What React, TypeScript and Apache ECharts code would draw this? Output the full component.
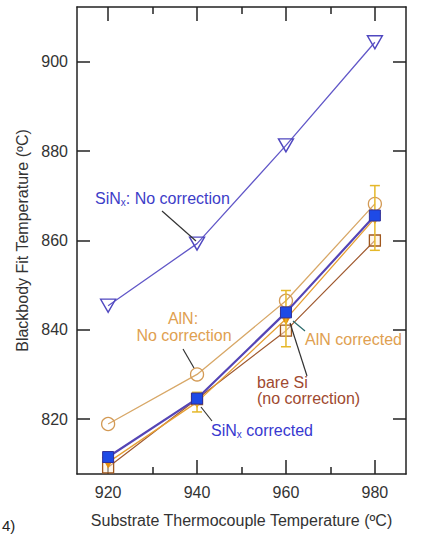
import React, { useEffect, useRef } from "react";
import * as echarts from "echarts";

const xValues = [920, 940, 960, 980];
const sinxNoCorr = [845.4, 859.3, 881.3, 904.4];
const alnNoCorr = [818.9, 830.0, 846.5, 868.2];
const sinxCorr = [811.5, 824.6, 843.9, 865.6];
const alnCorr = [810.3, 823.8, 842.4, 865.0];
const bareSi = [809.2, 824.5, 839.8, 860.0];
const errX = [940, 960, 980];
const errLow = [821.6, 836.2, 857.8];
const errHigh = [826.0, 848.8, 872.3];
const xMajorTicks = [920, 940, 960, 980];
const xMinorTicks = [930, 950, 970];
const yTicks = [820, 840, 860, 880, 900];

const FONT = "'Liberation Sans', Arial, sans-serif";
const AX = "#222";

export default function App() {
  const ref = useRef<HTMLDivElement>(null);
  useEffect(() => {
    if (!ref.current) return;
    const chart = echarts.init(ref.current, null, { renderer: "svg" });
    const pair = (ys: number[]) => xValues.map((x, i) => [x, ys[i]]);
    const xMin = 913, xMax = 987, yMin = 807.7, yMax = 912.3;
    const baseX = (pos: string, ticks: number[], len: number, line: boolean, labels: boolean, extra: any = {}) => ({
      type: "value", position: pos, min: xMin, max: xMax, gridIndex: 0,
      axisLine: { show: line, onZero: false, lineStyle: { color: AX, width: 1.5 } },
      axisTick: { show: true, inside: true, length: len, customValues: ticks, lineStyle: { color: AX, width: 1.5 } },
      axisLabel: labels ? { show: true, customValues: ticks, fontSize: 16, color: "#333", margin: 10, fontFamily: FONT } : { show: false },
      splitLine: { show: false },
      ...extra,
    });
    const baseY = (pos: string, labels: boolean, extra: any = {}) => ({
      type: "value", position: pos, min: yMin, max: yMax,
      axisLine: { show: true, onZero: false, lineStyle: { color: AX, width: 1.5 } },
      axisTick: { show: true, inside: true, length: 13, customValues: yTicks, lineStyle: { color: AX, width: 1.5 } },
      axisLabel: labels ? { show: true, customValues: yTicks, fontSize: 16, color: "#333", margin: 9, fontFamily: FONT } : { show: false },
      splitLine: { show: false },
      ...extra,
    });
    const txt = (x: number, y: number, text: string, fill: string, align = "left") => ({
      type: "text", x, y, z: 20,
      style: { text, fill, fontSize: 16, fontFamily: FONT, align, verticalAlign: "middle" },
    });
    const ln = (x1: number, y1: number, x2: number, y2: number, stroke = "#333") => ({
      type: "line", z: 20, shape: { x1, y1, x2, y2 }, style: { stroke, lineWidth: 1.2 },
    });
    const subText = (x: number, y: number, pre: string, post: string, fill: string) => ({
      type: "text", x, y, z: 20,
      style: {
        text: `{a|${pre}}{s|x}{a|${post}}`, fill, fontFamily: FONT, fontSize: 16, verticalAlign: "middle", align: "left",
        rich: {
          a: { fontSize: 16, fill, fontFamily: FONT },
          s: { fontSize: 10, fill, fontFamily: FONT, verticalAlign: "bottom", padding: [8, 0, 0, 0] },
        },
      },
    });
    chart.setOption({
      animation: false,
      backgroundColor: "#fff",
      grid: { left: 77, right: 18, top: 7, bottom: 60, containLabel: false, outerBoundsMode: "none" },
      xAxis: [
        baseX("bottom", xMajorTicks, 14, true, true, {
          name: "Substrate Thermocouple Temperature (ºC)", nameLocation: "middle", nameGap: 38,
          nameTextStyle: { fontSize: 16, color: "#333", fontFamily: FONT },
        }),
        baseX("bottom", xMinorTicks, 7, false, false),
        baseX("top", xMajorTicks, 14, true, false),
        baseX("top", xMinorTicks, 7, false, false),
      ],
      yAxis: [
        baseY("left", true, {
          name: "Blackbody Fit Temperature (ºC)", nameLocation: "middle", nameGap: 44,
          nameTextStyle: { fontSize: 16, color: "#333", fontFamily: FONT },
        }),
        baseY("right", false),
      ],
      series: [
        {
          name: "SiNx: No correction", type: "line", data: pair(sinxNoCorr), z: 3,
          symbol: "triangle", symbolRotate: 180, symbolSize: [15, 13],
          lineStyle: { color: "#6258c8", width: 1.3 },
          itemStyle: { color: "rgba(255,255,255,0)", borderColor: "#5048c0", borderWidth: 1.4 },
        },
        {
          name: "AlN: No correction", type: "line", data: pair(alnNoCorr), z: 2,
          symbol: "circle", symbolSize: 13,
          lineStyle: { color: "#d8a868", width: 1.3 },
          itemStyle: { color: "rgba(255,255,255,0)", borderColor: "#d39a55", borderWidth: 1.3 },
        },
        {
          name: "bare Si (no correction)", type: "line", data: pair(bareSi), z: 3,
          symbol: "rect", symbolSize: 11,
          lineStyle: { color: "#a05a30", width: 1.2 },
          itemStyle: { color: "rgba(255,240,220,0.5)", borderColor: "#a0581e", borderWidth: 1.3 },
        },
        {
          name: "AlN corrected", type: "line", data: pair(alnCorr), z: 4,
          symbol: "triangle", symbolRotate: 180, symbolSize: [11, 10],
          lineStyle: { color: "#e6a035", width: 1.3 },
          itemStyle: { color: "#e8900c", borderColor: "#e8900c", borderWidth: 1 },
        },
        {
          name: "AlN corrected error", type: "custom", z: 5,
          data: errX.map((x, i) => [x, errLow[i], errHigh[i]]),
          encode: { x: 0, y: [1, 2] },
          renderItem: (params: any, api: any) => {
            const x = api.value(0);
            const lo = api.coord([x, api.value(1)]);
            const hi = api.coord([x, api.value(2)]);
            const hw = 5;
            const st = { stroke: "#e5b82a", lineWidth: 1.5 };
            return {
              type: "group",
              children: [
                { type: "line", shape: { x1: lo[0], y1: lo[1], x2: hi[0], y2: hi[1] }, style: st },
                { type: "line", shape: { x1: hi[0] - hw, y1: hi[1], x2: hi[0] + hw, y2: hi[1] }, style: st },
                { type: "line", shape: { x1: lo[0] - hw, y1: lo[1], x2: lo[0] + hw, y2: lo[1] }, style: st },
              ],
            };
          },
        },
        {
          name: "SiNx corrected", type: "line", data: pair(sinxCorr), z: 6,
          symbol: "rect", symbolSize: 11,
          lineStyle: { color: "#5545b5", width: 2.2 },
          itemStyle: { color: "#1e4ae6", borderColor: "#30309a", borderWidth: 1 },
        },
      ],
      graphic: [
        subText(95, 198, "SiN", ": No correction", "#3d3dc8"),
        ln(162, 211, 196, 241),
        txt(183, 318, "AlN:", "#e0a050", "center"),
        txt(184, 335, "No correction", "#e0a050", "center"),
        ln(183, 349, 194, 368),
        txt(305, 339, "AlN corrected", "#e0a050"),
        ln(293, 321, 305, 331, "#2a6a6a"),
        txt(257, 382, "bare Si", "#a04a30"),
        txt(257, 398, "(no correction)", "#a04a30"),
        ln(290, 323, 307, 376),
        subText(211, 430, "SiN", " corrected", "#3838d0"),
        ln(201, 407, 212, 421),
        { type: "text", x: 2, y: 518, z: 20, style: { text: "4)", fill: "#222", fontSize: 15, fontFamily: FONT, align: "left", verticalAlign: "top" } },
      ],
    });
    return () => chart.dispose();
  }, []);
  return <div ref={ref} style={{ position: "fixed", left: 0, top: 0, width: 424, height: 534 }} />;
}
